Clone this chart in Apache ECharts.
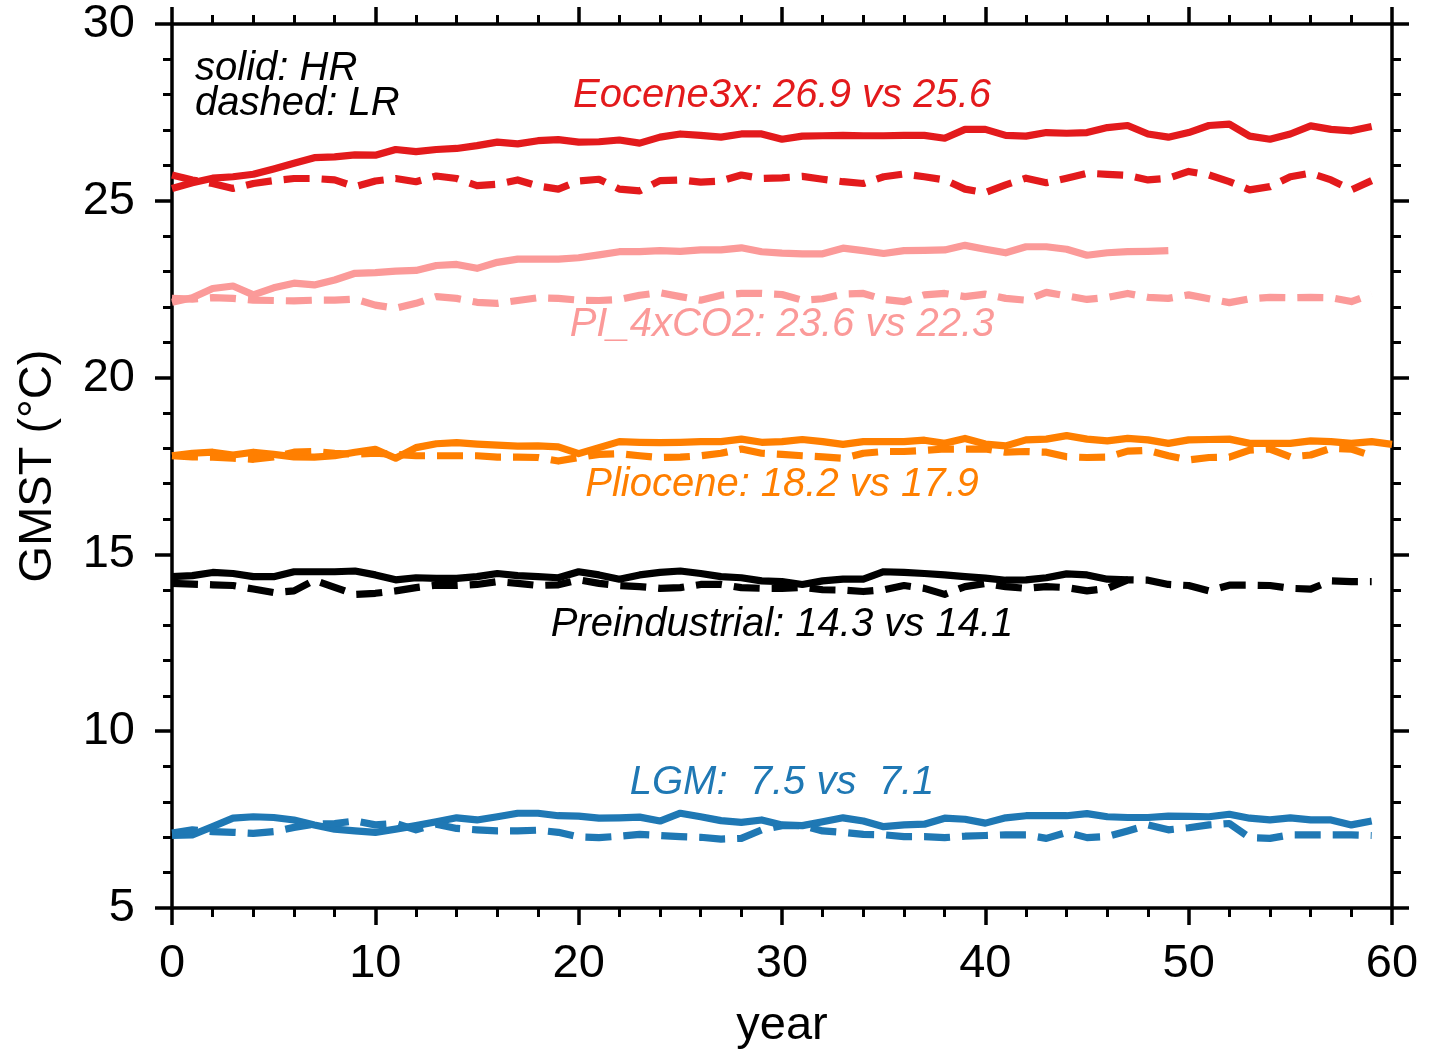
<!DOCTYPE html>
<html>
<head>
<meta charset="utf-8">
<title>GMST time series</title>
<script src="https://cdn.jsdelivr.net/npm/echarts@6/dist/echarts.min.js"></script>
<style>
  html, body { margin: 0; padding: 0; background: #fff; }
  #chart { width: 1440px; height: 1052px; }
</style>
</head>
<body>
<div id="chart"></div>
<script>
// Global mean surface temperature (°C) per model year, high-res (HR) vs low-res (LR)
const eoceneHR = [25.35,25.51,25.64,25.68,25.75,25.90,26.06,26.22,26.24,26.30,26.29,26.45,26.39,26.45,26.48,26.56,26.66,26.61,26.70,26.73,
  26.66,26.67,26.72,26.63,26.80,26.89,26.85,26.80,26.89,26.89,26.74,26.83,26.84,26.85,26.84,26.84,26.85,26.85,26.77,27.02,
  27.02,26.85,26.83,26.93,26.91,26.93,27.07,27.13,26.89,26.80,26.93,27.13,27.17,26.83,26.74,26.89,27.12,27.02,26.98,27.10];
const eoceneLR = [25.73,25.59,25.49,25.35,25.49,25.57,25.63,25.63,25.59,25.40,25.56,25.63,25.54,25.70,25.63,25.43,25.47,25.59,25.42,25.33,
  25.56,25.61,25.33,25.28,25.57,25.59,25.53,25.56,25.73,25.63,25.65,25.69,25.61,25.54,25.49,25.68,25.76,25.68,25.59,25.33,
  25.23,25.45,25.64,25.51,25.64,25.78,25.75,25.72,25.59,25.64,25.83,25.73,25.54,25.31,25.40,25.68,25.78,25.59,25.31,25.57];
const pi4xHR = [22.13,22.26,22.52,22.59,22.34,22.54,22.67,22.62,22.76,22.95,22.97,23.01,23.03,23.17,23.20,23.09,23.26,23.35,23.35,23.35,
  23.39,23.47,23.56,23.56,23.59,23.57,23.61,23.61,23.67,23.56,23.52,23.50,23.50,23.66,23.59,23.51,23.59,23.60,23.61,23.74,
  23.63,23.53,23.70,23.70,23.63,23.46,23.53,23.56,23.57,23.59];
const pi4xLR = [22.24,22.22,22.26,22.24,22.19,22.18,22.17,22.19,22.19,22.22,22.05,21.96,22.10,22.29,22.24,22.13,22.10,22.18,22.26,22.24,
  22.19,22.18,22.21,22.33,22.40,22.29,22.19,22.33,22.38,22.38,22.35,22.19,22.23,22.36,22.38,22.21,22.15,22.34,22.38,22.29,
  22.36,22.24,22.19,22.41,22.31,22.21,22.27,22.38,22.27,22.24,22.34,22.23,22.12,22.23,22.27,22.26,22.27,22.26,22.15,22.36];
const plioHR = [17.79,17.86,17.89,17.81,17.89,17.83,17.76,17.75,17.79,17.89,17.97,17.72,18.02,18.13,18.16,18.12,18.09,18.06,18.07,18.04,
  17.85,18.02,18.19,18.17,18.16,18.17,18.19,18.19,18.26,18.17,18.19,18.25,18.19,18.11,18.19,18.19,18.19,18.23,18.14,18.28,
  18.12,18.07,18.24,18.26,18.36,18.26,18.21,18.28,18.24,18.14,18.24,18.25,18.26,18.14,18.14,18.14,18.21,18.19,18.14,18.19,18.11];
const plioLR = [17.79,17.76,17.75,17.72,17.69,17.76,17.89,17.91,17.86,17.83,17.86,17.83,17.79,17.79,17.79,17.79,17.75,17.75,17.74,17.64,
  17.74,17.83,17.85,17.79,17.74,17.75,17.79,17.86,17.98,17.86,17.83,17.79,17.76,17.72,17.86,17.91,17.91,17.94,17.98,17.98,
  17.98,17.89,17.91,17.89,17.76,17.74,17.75,17.92,17.94,17.79,17.67,17.74,17.75,17.95,17.98,17.76,17.81,18.00,17.98,17.79];
const preHR = [14.37,14.40,14.49,14.46,14.37,14.37,14.51,14.51,14.51,14.53,14.42,14.28,14.34,14.32,14.32,14.37,14.46,14.40,14.37,14.34,
  14.51,14.42,14.30,14.42,14.49,14.53,14.46,14.37,14.34,14.25,14.23,14.15,14.25,14.30,14.30,14.51,14.49,14.46,14.42,14.37,
  14.33,14.27,14.28,14.34,14.45,14.42,14.30,14.28];
const preLR = [14.18,14.16,14.14,14.12,14.02,13.92,13.97,14.27,14.07,13.87,13.90,13.97,14.06,14.13,14.12,14.15,14.23,14.18,14.12,14.14,
  14.28,14.18,14.12,14.09,14.04,14.06,14.15,14.15,14.06,14.04,14.04,14.07,14.00,13.99,13.95,14.00,14.12,14.04,13.87,14.09,
  14.18,14.09,14.04,14.09,14.06,13.97,14.04,14.28,14.27,14.15,14.12,13.97,14.13,14.13,14.12,14.04,14.02,14.25,14.23,14.23];
const lgmHR = [7.05,7.07,7.30,7.54,7.58,7.56,7.49,7.35,7.23,7.18,7.14,7.23,7.33,7.44,7.55,7.49,7.58,7.68,7.68,7.61,
  7.60,7.54,7.55,7.57,7.46,7.68,7.58,7.47,7.42,7.49,7.35,7.33,7.44,7.55,7.46,7.30,7.35,7.37,7.54,7.51,
  7.40,7.55,7.61,7.61,7.61,7.67,7.58,7.56,7.56,7.60,7.59,7.58,7.65,7.54,7.49,7.55,7.49,7.49,7.35,7.46];
const lgmLR = [7.12,7.21,7.16,7.14,7.11,7.16,7.28,7.37,7.39,7.46,7.35,7.39,7.21,7.37,7.25,7.21,7.18,7.18,7.20,7.14,
  7.01,6.99,7.03,7.08,7.05,7.02,7.00,6.95,6.97,7.21,7.33,7.33,7.18,7.14,7.08,7.07,7.02,7.02,6.99,7.03,
  7.05,7.07,7.07,6.97,7.14,6.99,7.02,7.18,7.35,7.21,7.27,7.35,7.39,6.99,6.97,7.07,7.07,7.07,7.07,7.05];

// Experiments, colours and the summary text written next to each pair of curves
const experiments = ['Eocene3x', 'PI_4xCO2', 'Pliocene', 'Preindustrial', 'LGM'];
const colors = ['#e31a1c', '#fb9a99', '#ff7f00', '#000000', '#1f78b4'];
const hrSeries = [eoceneHR, pi4xHR, plioHR, preHR, lgmHR];
const lrSeries = [eoceneLR, pi4xLR, plioLR, preLR, lgmLR];
const summaryText = ['Eocene3x: 26.9 vs 25.6', 'PI_4xCO2: 23.6 vs 22.3', 'Pliocene: 18.2 vs 17.9',
  'Preindustrial: 14.3 vs 14.1', 'LGM:  7.5 vs  7.1'];
const summaryAnchor = [[30, 27.97], [30, 21.49], [30, 16.97], [30, 13.01], [30, 8.54]];

const FONT = '"Liberation Sans", Arial, Helvetica, sans-serif';
const AXIS_W = 3.5;

const chart = echarts.init(document.getElementById('chart'), null, { renderer: 'canvas' });

function toPairs(arr) { return arr.map((v, i) => [i, v]); }

const series = [];
experiments.forEach((name, k) => {
  series.push({
    name: name + ' HR', type: 'line', data: toPairs(hrSeries[k]),
    symbol: 'none', showSymbol: false, animation: false, clip: true,
    lineStyle: { color: colors[k], width: 7.2, type: 'solid', join: 'round', cap: 'butt' },
    z: 3
  });
  series.push({
    name: name + ' LR', type: 'line', data: toPairs(lrSeries[k]),
    symbol: 'none', showSymbol: false, animation: false, clip: true,
    lineStyle: { color: colors[k], width: 7.2, type: [26, 12], join: 'round', cap: 'butt' },
    z: 3
  });
});

function frameAxis(extra) {
  return Object.assign({
    type: 'value',
    axisLine: { show: true, onZero: false, lineStyle: { color: '#000', width: AXIS_W } },
    axisTick: { show: true, inside: false, length: 17, lineStyle: { color: '#000', width: AXIS_W } },
    minorTick: { show: true, splitNumber: 5, length: 9, lineStyle: { color: '#000', width: 3 } },
    splitLine: { show: false },
    minorSplitLine: { show: false }
  }, extra);
}

const option = {
  backgroundColor: '#ffffff',
  animation: false,
  grid: { left: 172, right: 48, top: 24, bottom: 144, containLabel: false, outerBoundsMode: 'none' },
  xAxis: [
    frameAxis({
      position: 'bottom', min: 0, max: 60, interval: 10,
      axisLabel: { show: true, color: '#000', fontSize: 47, fontFamily: FONT, margin: 33 },
      name: 'year', nameLocation: 'middle', nameGap: 95,
      nameTextStyle: { color: '#000', fontSize: 47, fontFamily: FONT }
    }),
    frameAxis({
      position: 'top', min: 0, max: 60, interval: 10,
      axisLabel: { show: false }
    })
  ],
  yAxis: [
    frameAxis({
      position: 'left', min: 5, max: 30, interval: 5,
      axisLabel: { show: true, color: '#000', fontSize: 47, fontFamily: FONT, margin: 37 },
      name: 'GMST (°C)', nameLocation: 'middle', nameGap: 110,
      nameTextStyle: { color: '#000', fontSize: 47, fontFamily: FONT }
    }),
    frameAxis({
      position: 'right', min: 5, max: 30, interval: 5,
      axisLabel: { show: false }
    })
  ],
  series: series
};

chart.setOption(option);

// Text annotations: style key and per-experiment summaries
const graphics = [];
const keyOrigin = chart.convertToPixel({ gridIndex: 0 }, [0, 30]);
graphics.push({
  type: 'text', silent: true, z: 10,
  style: { text: 'solid: HR', x: keyOrigin[0] + 23, y: keyOrigin[1] + 45,
    font: 'italic 40px ' + FONT, fill: '#000', textAlign: 'left', textVerticalAlign: 'middle' }
});
graphics.push({
  type: 'text', silent: true, z: 10,
  style: { text: 'dashed: LR', x: keyOrigin[0] + 23, y: keyOrigin[1] + 80,
    font: 'italic 40px ' + FONT, fill: '#000', textAlign: 'left', textVerticalAlign: 'middle' }
});
summaryText.forEach((txt, k) => {
  const p = chart.convertToPixel({ gridIndex: 0 }, summaryAnchor[k]);
  graphics.push({
    type: 'text', silent: true, z: 10,
    style: { text: txt, x: p[0], y: p[1], font: 'italic 40px ' + FONT,
      fill: colors[k], textAlign: 'center', textVerticalAlign: 'middle' }
  });
});
chart.setOption({ graphic: graphics });
</script>
</body>
</html>
